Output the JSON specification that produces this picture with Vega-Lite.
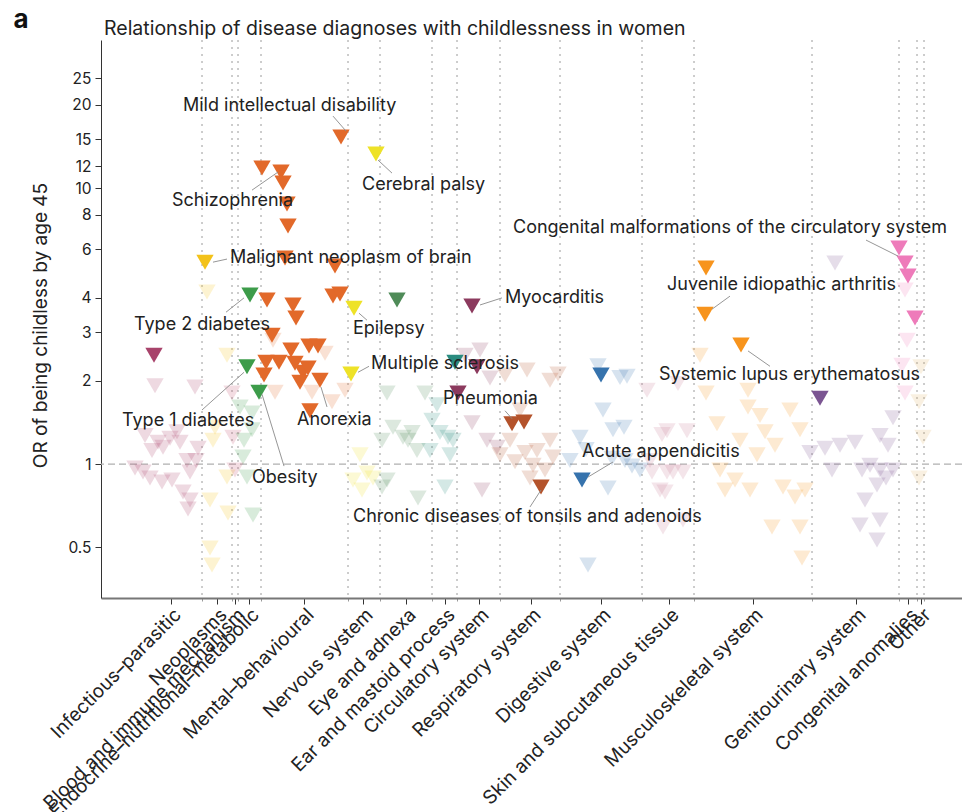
{
  "$schema": "https://vega.github.io/schema/vega-lite/v6.json",
  "width": 861,
  "height": 558,
  "autosize": {"type": "none"},
  "padding": {"left": 101, "top": 40, "right": 0, "bottom": 214},
  "config": {
    "font": "Inter",
    "view": {"stroke": null},
    "axis": {"labelFont": "Inter", "titleFont": "Inter", "labelColor": "#222", "titleColor": "#222", "grid": false}
  },
  "datasets": {
    "pts": [
      {"c":"Inf","x":53,"or":2.48,"s":1},
      {"c":"Inf","x":54,"or":1.92,"s":0},{"c":"Inf","x":94,"or":1.90,"s":0},{"c":"Inf","x":44,"or":1.27,"s":0},{"c":"Inf","x":57,"or":1.20,"s":0},{"c":"Inf","x":69,"or":1.24,"s":0},{"c":"Inf","x":76,"or":1.31,"s":0},{"c":"Inf","x":62,"or":1.15,"s":0},{"c":"Inf","x":51,"or":1.12,"s":0},{"c":"Inf","x":97,"or":1.14,"s":0},{"c":"Inf","x":86,"or":1.03,"s":0},{"c":"Inf","x":95,"or":1.03,"s":0},{"c":"Inf","x":89,"or":0.936,"s":0},{"c":"Inf","x":42,"or":0.936,"s":0},{"c":"Inf","x":49,"or":0.89,"s":0},{"c":"Inf","x":61,"or":0.861,"s":0},{"c":"Inf","x":82,"or":0.792,"s":0},{"c":"Inf","x":89,"or":0.741,"s":0},{"c":"Inf","x":87,"or":0.687,"s":0},{"c":"Inf","x":34,"or":0.967,"s":0},{"c":"Inf","x":71,"or":0.875,"s":0},{"c":"Inf","x":79,"or":1.20,"s":0},
      {"c":"Neo","x":104,"or":5.39,"s":1},
      {"c":"Neo","x":106,"or":4.20,"s":0},{"c":"Neo","x":126,"or":2.48,"s":0},{"c":"Neo","x":114,"or":1.36,"s":0},{"c":"Neo","x":126,"or":0.897,"s":0},{"c":"Neo","x":109,"or":0.741,"s":0},{"c":"Neo","x":127,"or":0.664,"s":0},{"c":"Neo","x":109,"or":0.496,"s":0},{"c":"Neo","x":111,"or":0.431,"s":0},{"c":"Neo","x":112,"or":1.22,"s":0},
      {"c":"Bld","x":131,"or":1.81,"s":0},{"c":"Bld","x":132,"or":1.25,"s":0},{"c":"Bld","x":134,"or":0.951,"s":0},
      {"c":"End","x":149,"or":4.10,"s":1},{"c":"End","x":146,"or":2.25,"s":1},{"c":"End","x":158,"or":1.82,"s":1},
      {"c":"End","x":139,"or":1.61,"s":0},{"c":"End","x":151,"or":1.53,"s":0},{"c":"End","x":151,"or":1.33,"s":0},{"c":"End","x":142,"or":1.06,"s":0},{"c":"End","x":146,"or":0.897,"s":0},{"c":"End","x":152,"or":0.653,"s":0},{"c":"End","x":143,"or":1.22,"s":0},
      {"c":"Men","x":240,"or":15.3,"s":1},
      {"c":"Men","x":161,"or":11.82,"s":1},{"c":"Men","x":180,"or":11.43,"s":1},{"c":"Men","x":182,"or":10.43,"s":1},{"c":"Men","x":186,"or":8.75,"s":1},{"c":"Men","x":187,"or":7.28,"s":1},{"c":"Men","x":184,"or":5.58,"s":1},{"c":"Men","x":234,"or":5.22,"s":1},{"c":"Men","x":232,"or":4.06,"s":1},{"c":"Men","x":239,"or":4.13,"s":1},{"c":"Men","x":166,"or":3.93,"s":1},{"c":"Men","x":192,"or":3.77,"s":1},{"c":"Men","x":195,"or":3.38,"s":1},{"c":"Men","x":171,"or":2.93,"s":1},{"c":"Men","x":190,"or":2.59,"s":1},{"c":"Men","x":208,"or":2.68,"s":1},{"c":"Men","x":217,"or":2.68,"s":1},{"c":"Men","x":165,"or":2.34,"s":1},{"c":"Men","x":178,"or":2.34,"s":1},{"c":"Men","x":194,"or":2.32,"s":1},{"c":"Men","x":202,"or":2.15,"s":1},{"c":"Men","x":163,"or":2.10,"s":1},{"c":"Men","x":199,"or":1.98,"s":1},{"c":"Men","x":219,"or":2.01,"s":1},{"c":"Men","x":209,"or":1.56,"s":1},{"c":"Men","x":207,"or":2.23,"s":1},
      {"c":"Men","x":172,"or":2.81,"s":0},{"c":"Men","x":224,"or":2.52,"s":0},{"c":"Men","x":174,"or":1.82,"s":0},{"c":"Men","x":211,"or":1.82,"s":0},{"c":"Men","x":231,"or":1.68,"s":0},{"c":"Men","x":244,"or":1.85,"s":0},
      {"c":"Ner","x":275,"or":13.28,"s":1},{"c":"Ner","x":253,"or":3.67,"s":1},{"c":"Ner","x":250,"or":2.12,"s":1},
      {"c":"Ner","x":259,"or":1.08,"s":0},{"c":"Ner","x":266,"or":0.928,"s":0},{"c":"Ner","x":252,"or":0.875,"s":0},{"c":"Ner","x":272,"or":0.89,"s":0},{"c":"Ner","x":261,"or":0.805,"s":0},
      {"c":"Eye","x":296,"or":3.93,"s":1},
      {"c":"Eye","x":286,"or":1.81,"s":0},{"c":"Eye","x":281,"or":1.22,"s":0},{"c":"Eye","x":302,"or":1.25,"s":0},{"c":"Eye","x":311,"or":1.30,"s":0},{"c":"Eye","x":316,"or":1.12,"s":0},{"c":"Eye","x":292,"or":1.36,"s":0},{"c":"Eye","x":324,"or":1.81,"s":0},{"c":"Eye","x":286,"or":0.875,"s":0},{"c":"Eye","x":281,"or":0.825,"s":0},{"c":"Eye","x":317,"or":0.753,"s":0},{"c":"Eye","x":307,"or":1.22,"s":0},
      {"c":"Ear","x":354,"or":2.34,"s":1},
      {"c":"Ear","x":331,"or":1.44,"s":0},{"c":"Ear","x":339,"or":1.30,"s":0},{"c":"Ear","x":347,"or":1.25,"s":0},{"c":"Ear","x":352,"or":1.22,"s":0},{"c":"Ear","x":329,"or":1.12,"s":0},{"c":"Ear","x":344,"or":0.825,"s":0},{"c":"Ear","x":349,"or":1.08,"s":0},{"c":"Ear","x":336,"or":1.64,"s":0},
      {"c":"Cir","x":371,"or":3.74,"s":1},{"c":"Cir","x":376,"or":2.25,"s":1},{"c":"Cir","x":357,"or":1.81,"s":1},
      {"c":"Cir","x":379,"or":2.59,"s":0},{"c":"Cir","x":389,"or":2.05,"s":0},{"c":"Cir","x":371,"or":1.41,"s":0},{"c":"Cir","x":386,"or":1.22,"s":0},{"c":"Cir","x":396,"or":1.15,"s":0},{"c":"Cir","x":381,"or":0.805,"s":0},{"c":"Cir","x":364,"or":2.48,"s":0},
      {"c":"Res","x":411,"or":1.40,"s":1},{"c":"Res","x":423,"or":1.42,"s":1},{"c":"Res","x":440,"or":0.825,"s":1},
      {"c":"Res","x":404,"or":2.10,"s":0},{"c":"Res","x":426,"or":2.19,"s":0},{"c":"Res","x":449,"or":2.01,"s":0},{"c":"Res","x":457,"or":2.12,"s":0},{"c":"Res","x":419,"or":1.57,"s":0},{"c":"Res","x":409,"or":1.22,"s":0},{"c":"Res","x":424,"or":1.10,"s":0},{"c":"Res","x":436,"or":1.12,"s":0},{"c":"Res","x":449,"or":1.22,"s":0},{"c":"Res","x":452,"or":1.06,"s":0},{"c":"Res","x":432,"or":0.99,"s":0},{"c":"Res","x":429,"or":0.89,"s":0},{"c":"Res","x":399,"or":1.08,"s":0},{"c":"Res","x":414,"or":1.02,"s":0},{"c":"Res","x":444,"or":0.951,"s":0},
      {"c":"Dig","x":500,"or":2.10,"s":1},{"c":"Dig","x":481,"or":0.875,"s":1},
      {"c":"Dig","x":497,"or":2.27,"s":0},{"c":"Dig","x":519,"or":2.06,"s":0},{"c":"Dig","x":526,"or":2.08,"s":0},{"c":"Dig","x":502,"or":1.57,"s":0},{"c":"Dig","x":479,"or":1.25,"s":0},{"c":"Dig","x":523,"or":1.36,"s":0},{"c":"Dig","x":485,"or":1.13,"s":0},{"c":"Dig","x":469,"or":1.03,"s":0},{"c":"Dig","x":511,"or":1.05,"s":0},{"c":"Dig","x":524,"or":1.03,"s":0},{"c":"Dig","x":531,"or":0.983,"s":0},{"c":"Dig","x":539,"or":0.951,"s":0},{"c":"Dig","x":507,"or":0.819,"s":0},{"c":"Dig","x":487,"or":0.431,"s":0},{"c":"Dig","x":512,"or":1.33,"s":0},
      {"c":"Ski","x":546,"or":1.85,"s":0},{"c":"Ski","x":561,"or":1.28,"s":0},{"c":"Ski","x":551,"or":0.936,"s":0},{"c":"Ski","x":566,"or":0.936,"s":0},{"c":"Ski","x":559,"or":0.805,"s":0},{"c":"Ski","x":562,"or":0.591,"s":0},{"c":"Ski","x":566,"or":1.32,"s":0},{"c":"Ski","x":586,"or":1.32,"s":0},{"c":"Ski","x":572,"or":0.936,"s":0},{"c":"Ski","x":582,"or":0.936,"s":0},{"c":"Ski","x":564,"or":0.792,"s":0},{"c":"Ski","x":582,"or":0.627,"s":0},{"c":"Ski","x":577,"or":1.96,"s":0},{"c":"Ski","x":549,"or":1.03,"s":0},
      {"c":"Mus","x":605,"or":5.13,"s":1},{"c":"Mus","x":604,"or":3.49,"s":1},{"c":"Mus","x":640,"or":2.70,"s":1},
      {"c":"Mus","x":599,"or":2.48,"s":0},{"c":"Mus","x":605,"or":1.81,"s":0},{"c":"Mus","x":616,"or":1.40,"s":0},{"c":"Mus","x":647,"or":1.85,"s":0},{"c":"Mus","x":647,"or":1.61,"s":0},{"c":"Mus","x":659,"or":1.50,"s":0},{"c":"Mus","x":664,"or":1.31,"s":0},{"c":"Mus","x":674,"or":1.17,"s":0},{"c":"Mus","x":689,"or":1.57,"s":0},{"c":"Mus","x":699,"or":1.33,"s":0},{"c":"Mus","x":619,"or":0.951,"s":0},{"c":"Mus","x":634,"or":0.875,"s":0},{"c":"Mus","x":624,"or":0.805,"s":0},{"c":"Mus","x":649,"or":0.805,"s":0},{"c":"Mus","x":682,"or":0.825,"s":0},{"c":"Mus","x":694,"or":0.759,"s":0},{"c":"Mus","x":704,"or":0.805,"s":0},{"c":"Mus","x":671,"or":0.591,"s":0},{"c":"Mus","x":699,"or":0.591,"s":0},{"c":"Mus","x":701,"or":0.457,"s":0},{"c":"Mus","x":639,"or":1.22,"s":0},{"c":"Mus","x":656,"or":1.08,"s":0},
      {"c":"Gen","x":719,"or":1.73,"s":1},
      {"c":"Gen","x":734,"or":5.35,"s":0},{"c":"Gen","x":724,"or":1.14,"s":0},{"c":"Gen","x":739,"or":1.17,"s":0},{"c":"Gen","x":754,"or":1.20,"s":0},{"c":"Gen","x":779,"or":1.27,"s":0},{"c":"Gen","x":792,"or":1.47,"s":0},{"c":"Gen","x":787,"or":1.17,"s":0},{"c":"Gen","x":769,"or":0.99,"s":0},{"c":"Gen","x":761,"or":0.951,"s":0},{"c":"Gen","x":779,"or":0.951,"s":0},{"c":"Gen","x":776,"or":0.839,"s":0},{"c":"Gen","x":785,"or":0.89,"s":0},{"c":"Gen","x":792,"or":0.951,"s":0},{"c":"Gen","x":764,"or":0.741,"s":0},{"c":"Gen","x":779,"or":0.627,"s":0},{"c":"Gen","x":759,"or":0.601,"s":0},{"c":"Gen","x":776,"or":0.53,"s":0},{"c":"Gen","x":731,"or":0.951,"s":0},{"c":"Gen","x":709,"or":1.10,"s":0},
      {"c":"Con","x":798,"or":6.06,"s":1},{"c":"Con","x":804,"or":5.35,"s":1},{"c":"Con","x":807,"or":4.80,"s":1},{"c":"Con","x":814,"or":3.38,"s":1},
      {"c":"Con","x":804,"or":4.27,"s":0},{"c":"Con","x":806,"or":2.81,"s":0},{"c":"Con","x":801,"or":2.28,"s":0},{"c":"Con","x":804,"or":1.81,"s":0},
      {"c":"Oth","x":820,"or":2.25,"s":0},{"c":"Oth","x":818,"or":1.68,"s":0},{"c":"Oth","x":822,"or":1.25,"s":0},{"c":"Oth","x":818,"or":0.89,"s":0}
    ],
    "bounds": [{"x":101},{"x":131},{"x":137},{"x":160},{"x":247},{"x":279},{"x":331},{"x":356},{"x":399},{"x":459},{"x":541},{"x":593},{"x":711},{"x":798},{"x":816},{"x":823}],
    "ann": [
      {"t":"Mild intellectual disability","x":82,"or":19.82},
      {"t":"Cerebral palsy","x":261,"or":10.25},
      {"t":"Schizophrenia","x":71,"or":8.97},
      {"t":"Congenital malformations of the circulatory system","x":412,"or":7.16},
      {"t":"Malignant neoplasm of brain","x":129,"or":5.58},
      {"t":"Juvenile idiopathic arthritis","x":566,"or":4.45},
      {"t":"Myocarditis","x":404,"or":4.00},
      {"t":"Type 2 diabetes","x":33,"or":3.19},
      {"t":"Epilepsy","x":252,"or":3.08},
      {"t":"Multiple sclerosis","x":270,"or":2.30},
      {"t":"Systemic lupus erythematosus","x":558,"or":2.10},
      {"t":"Pneumonia","x":342,"or":1.72},
      {"t":"Anorexia","x":196,"or":1.44},
      {"t":"Type 1 diabetes","x":21,"or":1.43},
      {"t":"Acute appendicitis","x":481,"or":1.11},
      {"t":"Obesity","x":151,"or":0.89},
      {"t":"Chronic diseases of tonsils and adenoids","x":252,"or":0.643}
    ],
    "lead": [
      {"x":232,"or":18.23,"x2":245,"or2":16.09},
      {"x":277,"or":12.63,"x2":291,"or2":11.33},
      {"x":151,"or":9.83,"x2":177,"or2":11.43},
      {"x":765,"or":6.48,"x2":797,"or2":5.67},
      {"x":112,"or":5.39,"x2":126,"or2":5.53},
      {"x":611,"or":3.64,"x2":629,"or2":4.06},
      {"x":379,"or":3.77,"x2":401,"or2":4.00},
      {"x":125,"or":3.55,"x2":143,"or2":4.00},
      {"x":258,"or":3.52,"x2":266,"or2":3.32},
      {"x":257,"or":2.15,"x2":268,"or2":2.26},
      {"x":647,"or":2.57,"x2":669,"or2":2.26},
      {"x":404,"or":1.56,"x2":411,"or2":1.46},
      {"x":226,"or":1.61,"x2":220,"or2":1.90},
      {"x":101,"or":1.57,"x2":143,"or2":2.15},
      {"x":487,"or":0.897,"x2":512,"or2":1.017},
      {"x":161,"or":1.79,"x2":183,"or2":0.983},
      {"x":440,"or":0.805,"x2":429,"or2":0.699}
    ],
    "heads": [
      {"t":"a","x":-80,"or":40.6,"k":"panel"},
      {"t":"Relationship of disease diagnoses with childlessness in women","x":3,"or":37.68,"k":"title"}
    ],
    "one": [{"or":1}]
  },
  "resolve": {"axis": {"x": "independent"}},
  "layer": [
    {
      "data": {"name": "bounds"},
      "mark": {"type": "rule", "color": "#9a9a9a", "strokeDash": [2, 5], "strokeWidth": 1},
      "encoding": {
        "x": {"field": "x", "type": "quantitative", "scale": {"domain": [0, 861], "nice": false, "zero": false},
          "axis": {"orient": "bottom", "values": [101,131,137,160,247,279,331,356,399,459,541,593,711,798,816,823], "labels": false, "tickSize": 3, "tickColor": "#999", "domain": false, "title": null}}
      }
    },
    {
      "data": {"name": "one"},
      "mark": {"type": "rule", "color": "#b0b0b0", "strokeDash": [7, 4], "strokeWidth": 1.2},
      "encoding": {"y": {"field": "or", "type": "quantitative", "scale": {"type": "log", "domain": [0.327, 34.4], "nice": false}}}
    },
    {
      "data": {"name": "pts"},
      "transform": [{"filter": "datum.s == 0"}],
      "mark": {"type": "point", "shape": "triangle-down", "filled": true, "size": 300, "opacity": 0.2, "strokeWidth": 0},
      "encoding": {
        "x": {"field": "x", "type": "quantitative", "scale": {"domain": [0, 861], "nice": false, "zero": false},
          "axis": {"orient": "bottom", "values": [70,116,134,148,203,262,305,344,378,430,500,568,652,755,807,820],
            "labelExpr": "{'70':'Infectious–parasitic','116':'Neoplasms','134':'Blood and immune mechanism','148':'Endocrine–nutritional–metabolic','203':'Mental–behavioural','262':'Nervous system','305':'Eye and adnexa','344':'Ear and mastoid process','378':'Circulatory system','430':'Respiratory system','500':'Digestive system','568':'Skin and subcutaneous tissue','652':'Musculoskeletal system','755':'Genitourinary system','807':'Congenital anomalies','820':'Other'}[datum.value]",
            "labelAngle": -45, "labelAlign": "right", "labelBaseline": "top", "labelOverlap": false, "labelFlush": false, "labelBound": false, "labelLimit": 0,
            "labelFontSize": 19, "labelPadding": 1, "tickSize": 6, "tickColor": "#333", "domainColor": "#777", "domainWidth": 2, "title": null}},
        "y": {"field": "or", "type": "quantitative", "scale": {"type": "log", "domain": [0.327, 34.4], "nice": false},
          "axis": {"values": [0.5,1,2,3,4,6,8,10,12,15,20,25], "format": "~g", "labelFontSize": 15.5, "labelOverlap": false, "labelFlush": false, "tickSize": 6, "tickColor": "#333", "domainColor": "#333", "labelPadding": 4,
            "title": "OR of being childless by age 45", "titleFontSize": 19, "titleFontWeight": "normal", "titleX": -61, "titleY": 285, "titleAngle": -90, "titleAlign": "center", "titleBaseline": "middle"}},
        "color": {"field": "c", "type": "nominal", "legend": null,
          "scale": {"domain": ["Inf","Neo","Bld","End","Men","Ner","Eye","Ear","Cir","Res","Dig","Ski","Mus","Gen","Con","Oth"],
            "range": ["#a8436b","#f3c21a","#c4506e","#3d9c4a","#e2692a","#eee228","#4f8b58","#2a8b7f","#8c3a5e","#b4532b","#3673ad","#c97d95","#f7941d","#7b5592","#ee7bba","#e3b46a"]}}
      }
    },
    {
      "data": {"name": "pts"},
      "transform": [{"filter": "datum.s == 1"}],
      "mark": {"type": "point", "shape": "triangle-down", "filled": true, "size": 300, "opacity": 1, "strokeWidth": 0},
      "encoding": {
        "x": {"field": "x", "type": "quantitative", "axis": null},
        "y": {"field": "or", "type": "quantitative"},
        "color": {"field": "c", "type": "nominal", "legend": null}
      }
    },
    {
      "data": {"name": "lead"},
      "mark": {"type": "rule", "color": "#8a8a8a", "strokeWidth": 0.9},
      "encoding": {
        "x": {"field": "x", "type": "quantitative", "axis": null},
        "y": {"field": "or", "type": "quantitative"},
        "x2": {"field": "x2"},
        "y2": {"field": "or2"}
      }
    },
    {
      "data": {"name": "ann"},
      "mark": {"type": "text", "align": "left", "baseline": "middle", "fontSize": 18, "font": "Inter", "color": "#222"},
      "encoding": {
        "x": {"field": "x", "type": "quantitative", "axis": null},
        "y": {"field": "or", "type": "quantitative"},
        "text": {"field": "t"}
      }
    },
    {
      "data": {"name": "heads"},
      "transform": [{"filter": "datum.k == 'panel'"}],
      "mark": {"type": "text", "align": "center", "baseline": "middle", "fontSize": 26, "fontWeight": "bold", "font": "Inter", "color": "#111"},
      "encoding": {
        "x": {"field": "x", "type": "quantitative", "axis": null},
        "y": {"field": "or", "type": "quantitative"},
        "text": {"field": "t"}
      }
    },
    {
      "data": {"name": "heads"},
      "transform": [{"filter": "datum.k == 'title'"}],
      "mark": {"type": "text", "align": "left", "baseline": "middle", "fontSize": 19.5, "font": "Inter", "color": "#222"},
      "encoding": {
        "x": {"field": "x", "type": "quantitative", "axis": null},
        "y": {"field": "or", "type": "quantitative"},
        "text": {"field": "t"}
      }
    }
  ]
}
